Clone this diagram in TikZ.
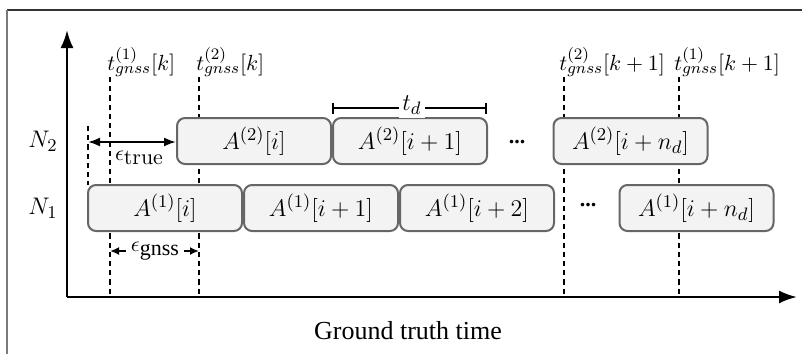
\documentclass[tikz,border=0pt]{standalone}
\usepackage[no-math]{fontspec}
\setmainfont{Liberation Serif}
\usetikzlibrary{arrows.meta}
\definecolor{boxfill}{HTML}{F3F3F3}
\definecolor{boxline}{HTML}{666666}
\definecolor{framegray}{HTML}{7A7A7A}
\tikzset{
  abox/.style={draw=boxline, fill=boxfill, line width=1pt, rounded corners=4pt,
    minimum width=77pt, minimum height=23pt, inner sep=0pt,
    font=\fontsize{13.2}{15}\selectfont},
  tick/.style={dash pattern=on 2.6pt off 2pt, line width=1.2pt},
  axis/.style={line width=1.2pt, -{Latex[length=9pt,width=6.5pt]}},
  tlab/.style={anchor=south west, inner sep=0pt, font=\fontsize{11}{13}\selectfont},
  rowlab/.style={font=\fontsize{13}{15}\selectfont},
  dotslab/.style={font=\fontsize{11}{12}\selectfont\bfseries},
  epslab/.style={font=\fontsize{11}{12}\selectfont, inner sep=0pt},
}
\begin{document}
\begin{tikzpicture}[x=0.5pt,y=-0.5pt]
\useasboundingbox (0,0) rectangle (802,354);
% frame (cropped)
\draw[line width=0.8pt, draw=black!80] (7,10) -- (802,10);
\draw[line width=1.1pt, draw=framegray] (7,10) -- (7,354);
% axes
\coordinate (O) at (67,297);
\coordinate (Ytip) at (67,30);
\coordinate (Xtip) at (797,297);
\draw[axis] (O) -- (Ytip);
\draw[axis] (O) -- (Xtip);
% dashed time markers
\coordinate (d0t) at (88,126);  \coordinate (d0b) at (88,185);
\coordinate (d1t) at (110,77);  \coordinate (d1b) at (110,297);
\coordinate (d2t) at (199,77);  \coordinate (d2b) at (199,297);
\coordinate (d3t) at (564,77);  \coordinate (d3b) at (564,297);
\coordinate (d4t) at (679,77);  \coordinate (d4b) at (679,297);
\draw[tick] (d0t) -- (d0b);
\draw[tick] (d1t) -- (d1b);
\draw[tick] (d2t) -- (d2b);
\draw[tick] (d3t) -- (d3b);
\draw[tick] (d4t) -- (d4b);
% time labels
\node[tlab] (l1) at ([xshift=-1.5pt]d1t) {$t^{(1)}_{gnss}[k]$};
\node[tlab] (l2) at ([xshift=-1.5pt]d2t) {$t^{(2)}_{gnss}[k]$};
\node[tlab] (l3) at ([xshift=-2.5pt]d3t) {$t^{(2)}_{gnss}[k+1]$};
\node[tlab] (l4) at ([xshift=-2.5pt]d4t) {$t^{(1)}_{gnss}[k+1]$};
% row labels
\node[rowlab] (N2) at (43,141) {$N_2$};
\node[rowlab] (N1) at (43,208) {$N_1$};
% N2 row
\node[abox] (A2i)  at (254,141) {$A^{(2)}[i]$};
\node[abox] (A2i1) at (410,141) {$A^{(2)}[i+1]$};
\node[abox] (A2nd) at (630.5,141) {$A^{(2)}[i+n_d]$};
\node[dotslab] (dots2) at (517,142) {...};
% N1 row
\node[abox] (A1i)  at (165,208) {$A^{(1)}[i]$};
\node[abox] (A1i1) at (321,208) {$A^{(1)}[i+1]$};
\node[abox] (A1i2) at (477,208) {$A^{(1)}[i+2]$};
\node[abox] (A1nd) at (696.5,208) {$A^{(1)}[i+n_d]$};
\node[dotslab] (dots1) at (588,205) {...};
% t_d bracket
\coordinate (tdL) at (332,108);
\coordinate (tdR) at (487,108);
\draw[line width=0.9pt, {Bar[width=5.5pt]}-{Bar[width=5.5pt]}] (tdL) -- (tdR);
\node[fill=white, inner sep=1.5pt, font=\fontsize{12.5}{14}\selectfont] (td) at (412,105) {$t_d$};
% epsilon true
\coordinate (e0) at (88,142);
\draw[line width=1pt, {Latex[length=6pt,width=4.5pt]}-{Latex[length=6pt,width=4.5pt]}] (e0) -- (A2i.west |- e0);
\node[epslab] (etrue) at (139,158) {$\epsilon$\raisebox{-2pt}{$\mathrm{true}$}};
% epsilon gnss
\node[epslab] (egnss) at (155,251) {$\epsilon$\raisebox{-2pt}{gnss}};
\coordinate (g1) at (110,251);
\coordinate (g2) at (199,251);
\draw[line width=1pt, -{Latex[length=4.5pt,width=4pt]}] (egnss.west) ++(-2.5pt,0) -- (g1);
\draw[line width=1pt, -{Latex[length=4.5pt,width=4pt]}] (egnss.east) ++(2.5pt,0) -- (g2);
% x-axis label
\node[font=\fontsize{13}{15}\selectfont] (xlab) at (408,331) {Ground truth time};
\end{tikzpicture}
\end{document}
